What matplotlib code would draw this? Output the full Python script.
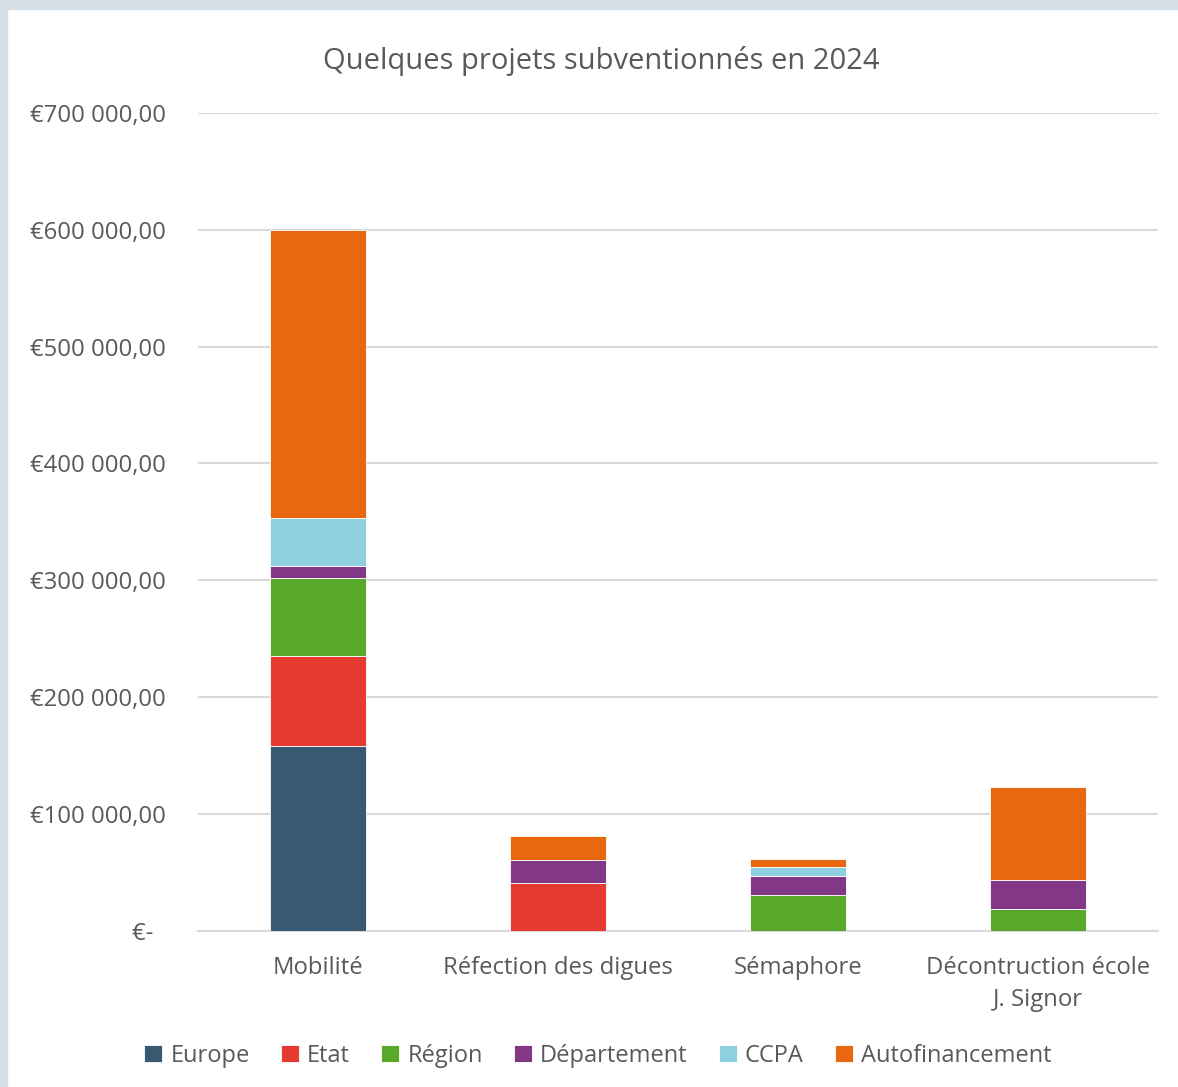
import matplotlib
matplotlib.use("Agg")
import matplotlib.pyplot as plt
from matplotlib.patches import Rectangle
from matplotlib.ticker import FuncFormatter, MultipleLocator
import numpy as np

categories = ["Mobilité", "Réfection des digues", "Sémaphore", "Décontruction école\nJ. Signor"]
series_names = ["Europe", "Etat", "Région", "Département", "CCPA", "Autofinancement"]
europe = [158000, 0, 0, 0]
etat = [77000, 40700, 0, 0]
region = [66600, 0, 30100, 18200]
departement = [10300, 19900, 16800, 24800]
ccpa = [41100, 0, 7700, 0]
autofinancement = [246900, 20300, 6900, 80100]
colors = ["#375A72", "#E53A30", "#58A92A", "#833887", "#8FD0E0", "#E9680F"]

plt.rcParams['font.family'] = ['Open Sans', 'DejaVu Sans']
txt = "#595959"

fig = plt.figure(figsize=(11.78, 10.87), dpi=100)
fig.patch.set_facecolor("white")
# light frame strips (left and top)
fig.add_artist(Rectangle((0, 0), 7/1178, 1, transform=fig.transFigure, color="#D3DEE7", zorder=0))
fig.add_artist(Rectangle((0, 1-9/1087), 1, 9/1087, transform=fig.transFigure, color="#D3DEE7", zorder=0))

ax = fig.add_axes([198/1178, 1-930.5/1087, 960/1178, (930.5-113)/1087])
x = np.arange(len(categories))
bottom = np.zeros(len(categories))
data = [europe, etat, region, departement, ccpa, autofinancement]
for name, vals, c in zip(series_names, data, colors):
    ax.bar(x, vals, 0.404, bottom=bottom, color=c, edgecolor="white", linewidth=0.6, label=name, zorder=3)
    bottom += np.array(vals)

ax.set_xlim(-0.5, 3.5)
ax.set_ylim(0, 700000)
ax.yaxis.set_major_locator(MultipleLocator(100000))

def fmt(v, pos):
    if v == 0:
        return "€-  "
    s = "{:,.2f}".format(v).replace(",", " ").replace(".", ",")
    return "€" + s
ax.yaxis.set_major_formatter(FuncFormatter(fmt))
ax.grid(axis="y", color="#D9D9D9", linewidth=1.5, zorder=0)
ax.set_axisbelow(True)
for s in ["top", "right", "left"]:
    ax.spines[s].set_visible(False)
ax.spines["bottom"].set_color("#D9D9D9")
ax.spines["bottom"].set_linewidth(1.5)
ax.tick_params(axis="y", length=0, pad=23, labelsize=17.2, labelcolor=txt)
ax.tick_params(axis="x", length=0, pad=18.5, labelsize=17.2, labelcolor=txt)
ax.set_xticks(x)
ax.set_xticklabels(categories, linespacing=1.45)

fig.text(601/1178, 1-60.5/1087, "Quelques projets subventionnés en 2024", ha="center", va="center",
         fontsize=21, color=txt)

fig.legend(loc="center", bbox_to_anchor=(598/1178, 1-1055.5/1087), ncol=6, frameon=False,
           fontsize=17, labelcolor=txt, handlelength=0.75, handleheight=0.75, handletextpad=0.35,
           columnspacing=1.33)

fig.savefig("out.png", dpi=100, facecolor="white")
